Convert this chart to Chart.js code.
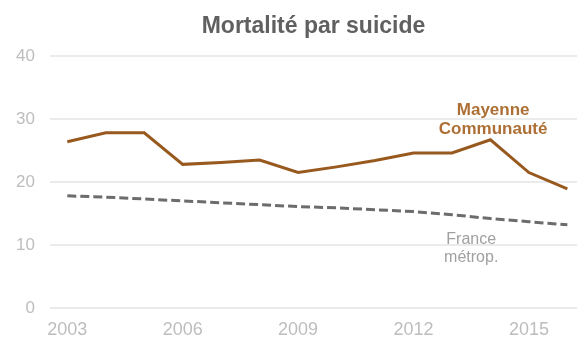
<!DOCTYPE html>
<html>
<head>
<meta charset="utf-8">
<script src="https://cdn.jsdelivr.net/npm/chart.js@4.4.1/dist/chart.umd.min.js"></script>
<style>
  html, body { margin: 0; padding: 0; background: #ffffff; }
  #wrap { width: 577px; height: 345px; }
</style>
</head>
<body>
<div id="wrap"><canvas id="c" width="577" height="345"></canvas></div>
<script>
const chartTitle = "Mortalité par suicide";
const years = [2003, 2004, 2005, 2006, 2007, 2008, 2009, 2010, 2011, 2012, 2013, 2014, 2015, 2016];
const mayenne = [26.4, 27.8, 27.8, 22.8, 23.1, 23.5, 21.5, 22.4, 23.4, 24.6, 24.6, 26.7, 21.5, 18.9];
const france = [17.8, 17.6, 17.3, 17.0, 16.7, 16.4, 16.1, 15.9, 15.6, 15.3, 14.8, 14.2, 13.7, 13.2];
const xTickYears = [2003, 2006, 2009, 2012, 2015];
const yTicks = [0, 10, 20, 30, 40];
const seriesNames = ["Mayenne\nCommunauté", "France\nmétrop."];

const FONT = '"Liberation Sans", Arial, Helvetica, sans-serif';

const titlePlugin = {
  id: 'customTitle',
  afterDraw(chart) {
    const ctx = chart.ctx, a = chart.chartArea;
    ctx.save();
    ctx.font = 'bold 23px ' + FONT;
    ctx.fillStyle = '#606060';
    ctx.textAlign = 'center';
    ctx.textBaseline = 'alphabetic';
    ctx.fillText(chartTitle, (a.left + a.right) / 2, 33);
    ctx.restore();
  }
};

const labelPlugin = {
  id: 'seriesLabels',
  afterDatasetsDraw(chart) {
    const ctx = chart.ctx;
    const xs = chart.scales.x, ys = chart.scales.y;
    ctx.save();
    ctx.textAlign = 'center';
    ctx.textBaseline = 'middle';
    // Mayenne label, above the 2014 peak
    ctx.font = 'bold 17px ' + FONT;
    ctx.fillStyle = '#ad6f35';
    const m = seriesNames[0].split('\n');
    const mx = xs.getPixelForValue(2014.07);
    ctx.fillText(m[0], mx, ys.getPixelForValue(31.3));
    ctx.fillText(m[1], mx, ys.getPixelForValue(28.4));
    // France label, below the dashed line
    ctx.font = '16px ' + FONT;
    ctx.fillStyle = '#a0a0a0';
    const f = seriesNames[1].split('\n');
    const fx = xs.getPixelForValue(2013.5);
    ctx.fillText(f[0], fx, ys.getPixelForValue(10.8));
    ctx.fillText(f[1], fx, ys.getPixelForValue(8.0));
    ctx.restore();
  }
};

new Chart(document.getElementById('c'), {
  type: 'line',
  data: {
    datasets: [
      {
        label: 'Mayenne Communauté',
        data: years.map((y, i) => ({ x: y, y: mayenne[i] })),
        borderColor: '#98591f',
        borderWidth: 3,
        pointRadius: 0,
        tension: 0,
        fill: false
      },
      {
        label: 'France métrop.',
        data: years.map((y, i) => ({ x: y, y: france[i] })),
        borderColor: '#6c6c6c',
        borderWidth: 3,
        borderDash: [9, 4],
        pointRadius: 0,
        tension: 0,
        fill: false
      }
    ]
  },
  options: {
    responsive: false,
    animation: false,
    devicePixelRatio: 1,
    layout: { padding: { top: 56, left: 0, right: 0, bottom: 0 } },
    plugins: {
      legend: { display: false },
      title: { display: false },
      tooltip: { enabled: false }
    },
    scales: {
      x: {
        type: 'linear',
        min: 2002.55,
        max: 2016.25,
        afterBuildTicks(axis) { axis.ticks = xTickYears.map(v => ({ value: v })); },
        afterFit(axis) { axis.height = 37; },
        grid: { display: false, drawTicks: false },
        border: { display: false },
        ticks: {
          padding: 11,
          autoSkip: false,
          maxRotation: 0,
          color: '#bdbdbd',
          font: { family: FONT, size: 18 },
          callback: (v) => String(v)
        }
      },
      y: {
        min: 0,
        max: 40,
        afterBuildTicks(axis) { axis.ticks = yTicks.map(v => ({ value: v })); },
        afterFit(axis) { axis.width = 50; },
        grid: { color: '#ebebeb', lineWidth: 2, drawTicks: false },
        border: { display: false },
        ticks: {
          padding: 15,
          color: '#bdbdbd',
          font: { family: FONT, size: 17 },
          callback: (v) => String(v)
        }
      }
    }
  },
  plugins: [titlePlugin, labelPlugin]
});
</script>
</body>
</html>
